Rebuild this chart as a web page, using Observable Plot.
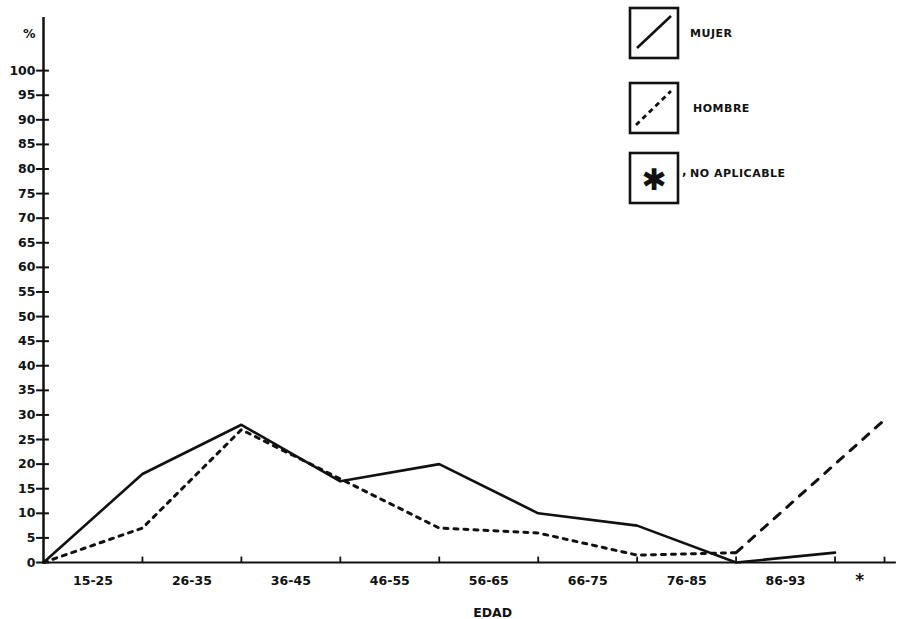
<!DOCTYPE html>
<html><head><meta charset="utf-8">
<script src="https://cdn.jsdelivr.net/npm/d3@7"></script>
<script src="https://cdn.jsdelivr.net/npm/@observablehq/plot@0.6"></script>
<style>
body{margin:0;background:#fff;}
#wrap{position:relative;width:905px;height:619px;font-family:"DejaVu Sans",sans-serif;}
#wrap svg{position:absolute;left:0;top:0;}
</style></head><body><div id="wrap"></div>
<script>
// age groups (x categories)
const categories = ["15-25","26-35","36-45","46-55","56-65","66-75","76-85","86-93","*"];
// percentage values per age group (null = no point)
const mujer  = [18, 28, 16.5, 20, 10, 7.5, 0, 2, null];
const hombre = [7, 27, 17, 7, 6, 1.5, 2, null, 29];
const yTicks = d3.range(0, 101, 5);
const yLabel = "%";
const xLabel = "EDAD";
const legendLabels = ["MUJER", "HOMBRE", "NO APLICABLE"];

// each value sits at the right edge of its age interval; the "*" interval is half width
const edge = i => (i < 8 ? i + 1 : 8.5);
const mid = i => (i < 8 ? i + 0.5 : 8.25);
const edges = categories.map((c, i) => edge(i));

const series = vals => [{x: 0, y: 0}, ...vals.map((v, i) => ({x: edge(i), y: v})).filter(d => d.y != null)];
const mujerPts = series(mujer);
const hombrePts = series(hombre);
const hombreDotted = hombrePts.filter(d => d.x <= 7);
const hombreDashed = hombrePts.filter(d => d.x >= 7);

const bold = {fontWeight: "bold", fontSize: 12.5, fill: "#111"};
const yTop = 110.8;

const chart = Plot.plot({
  width: 905, height: 619,
  marginLeft: 43, marginRight: 21, marginTop: 17, marginBottom: 57,
  x: {domain: [0, 8.5], axis: null},
  y: {domain: [0, yTop], axis: null},
  style: {fontFamily: "DejaVu Sans, sans-serif", background: "#fff"},
  marks: [
    Plot.ruleX([0], {y1: 0, y2: yTop, strokeWidth: 2.5, stroke: "#111"}),
    Plot.ruleY([0], {x1: 0, x2: 8.62, strokeWidth: 2.2, stroke: "#111"}),
    Plot.ruleY(yTicks, {y: d => d, x1: -0.07, x2: 0.06, strokeWidth: 2, stroke: "#111"}),
    Plot.text(yTicks, {x: 0, y: d => d, dx: -8, textAnchor: "end", text: d => String(d), ...bold}),
    Plot.text([yLabel], {x: 0, y: 107.5, dx: -8, textAnchor: "end", text: d => d, ...bold}),
    Plot.ruleX(edges, {x: d => d, y1: 0, y2: 1.1, strokeWidth: 1.8, stroke: "#111"}),
    Plot.text(categories, {x: (d, i) => mid(i), y: 0, dy: 18, text: d => d, ...bold, fontSize: (d) => d === "*" ? 17 : 12.5}),
    Plot.text([xLabel], {x: 4.54, y: 0, dy: 50, text: d => d, ...bold}),
    Plot.line(mujerPts, {x: "x", y: "y", stroke: "#111", strokeWidth: 2.6}),
    Plot.line(hombreDotted, {x: "x", y: "y", stroke: "#111", strokeWidth: 3, strokeDasharray: "4,6"}),
    Plot.line(hombreDashed, {x: "x", y: "y", stroke: "#111", strokeWidth: 3, strokeDasharray: "8,9", strokeLinecap: "round"})
  ]
});
const wrap = document.getElementById("wrap");
wrap.appendChild(chart);

// legend overlay
const ns = "http://www.w3.org/2000/svg";
const lg = d3.select(wrap).append("svg").attr("width", 905).attr("height", 619).style("pointer-events", "none");
const boxes = [
  {y: 8, kind: "solid"},
  {y: 83, kind: "dashed"},
  {y: 153, kind: "star"}
];
boxes.forEach((b, i) => {
  const g = lg.append("g").attr("transform", `translate(630,${b.y})`);
  g.append("rect").attr("width", 48).attr("height", 50).attr("fill", "none").attr("stroke", "#111").attr("stroke-width", 2.6);
  if (b.kind === "solid") {
    g.append("line").attr("x1", 7).attr("y1", 40).attr("x2", 41).attr("y2", 8).attr("stroke", "#111").attr("stroke-width", 2.6);
  } else if (b.kind === "dashed") {
    g.append("line").attr("x1", 6).attr("y1", 42).attr("x2", 41).attr("y2", 8).attr("stroke", "#111").attr("stroke-width", 2.8).attr("stroke-dasharray", "5,4");
  } else {
    g.append("text").attr("x", 24).attr("y", 26).attr("text-anchor", "middle").attr("dominant-baseline", "central")
      .attr("font-size", 30).attr("font-weight", "bold").attr("fill", "#111").text("\u2731");
  }
  lg.append("text").attr("x", i === 2 ? 690 : (i === 0 ? 690 : 693)).attr("y", b.y + (i === 2 ? 20 : 25))
    .attr("dominant-baseline", "central").attr("font-size", 11).attr("font-weight", "bold").attr("fill", "#111")
    .attr("letter-spacing", "0.5").text(legendLabels[i]);
});
lg.append("text").attr("x", 682).attr("y", 175).attr("font-size", 12).attr("font-weight", "bold").attr("fill", "#111").text(",");
</script>
</body></html>
